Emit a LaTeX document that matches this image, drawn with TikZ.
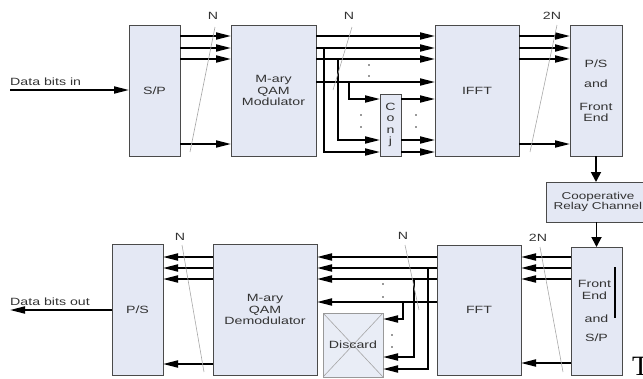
\documentclass[tikz,border=0pt]{standalone}
\usepackage{fontspec}
\setsansfont{Liberation Sans}[FakeStretch=1.35]
\newfontfamily\serifT{Liberation Serif}
\usetikzlibrary{arrows.meta}
\definecolor{boxfill}{HTML}{E4E8F4}
\definecolor{boxline}{HTML}{4A4A4A}
\definecolor{txt}{HTML}{333333}
\definecolor{busline}{HTML}{A8A8A8}

\tikzset{
  blk/.style={draw=boxline,fill=boxfill,line width=1pt,outer sep=0pt,inner sep=0pt,text=txt,align=center},
  sig/.style={line width=1.8pt,-{Triangle[length=15pt,width=7pt]}},
  drop/.style={line width=1.8pt,-{Triangle[length=10pt,width=10pt]}},
  bus/.style={busline,line width=0.6pt},
  dotp/.style={fill=txt,circle,inner sep=0pt,minimum size=1.6pt},
}

\begin{document}
\begin{tikzpicture}[x=1pt,y=-1pt,font=\sffamily\fontsize{10.5}{11.5}\selectfont,>=Triangle]
 \useasboundingbox (0,0) rectangle (643,378);
 \clip (0,0) rectangle (643,378);

 % transmitter chain
 \node[blk,minimum width=51,minimum height=131] (sp) at (154.5,90.5) {S/P};
 \node[blk,minimum width=85,minimum height=131] (mod) at (273.5,90.5) {M-ary\\QAM\\Modulator};
 \node[blk,minimum width=21,minimum height=62] (conj) at (390.5,125) {C\\o\\n\\j};
 \node[blk,minimum width=84,minimum height=131] (ifft) at (477,90.5) {IFFT};
 \node[blk,minimum width=52,minimum height=131] (ps) at (596,90.5) {P/S\\[8.5pt]and\\[11.5pt]Front\\End};
 \node[blk,minimum width=103,minimum height=40,font=\sffamily\fontsize{10}{9}\selectfont] (coop) at (598,202) {Cooperative\\Relay Channel};

 % receiver chain
 \node[blk,minimum width=51,minimum height=128] (fe) at (596.5,311) {\hspace*{-4pt}Front\\\hspace*{-4pt}End\\[11.5pt]and\\[7.5pt]S/P};
 \node[blk,minimum width=84,minimum height=130] (fft) at (479,310) {FFT};
 \node[blk,minimum width=60,minimum height=64,draw=gray!80,fill=boxfill!80!white,
   path picture={\draw[gray!70,line width=0.6pt] (path picture bounding box.north west) -- (path picture bounding box.south east)
     (path picture bounding box.north east) -- (path picture bounding box.south west);}] (dis) at (353,345) {Discard};
 \node[blk,minimum width=104,minimum height=131] (demod) at (265,309.5) {M-ary\\QAM\\Demodulator};
 \node[blk,minimum width=51,minimum height=131] (ps2) at (137.5,309.5) {P/S};

 % input / output
 \coordinate (din) at (10,90);
 \coordinate (dout) at (10,310);
 \node[anchor=base west,inner sep=0pt,text=txt] (inlbl) at (10,85) {Data bits in};
 \node[anchor=base west,inner sep=0pt,text=txt] (outlbl) at (10,305) {Data bits out};
 \draw[sig] (din) -- (sp.west |- din);
 \draw[sig] (ps2.west |- dout) -- (dout);

 % parallel lines, top
 \foreach \y in {36,48,59,144}
   \draw[sig] (sp.east |- 0,\y) -- (mod.west |- 0,\y);
 \foreach \y in {36,48,59,82}
   \draw[sig] (mod.east |- 0,\y) -- (ifft.west |- 0,\y);
 \draw[sig] (mod.east |- 0,48) ++(8,0) |- (conj.west |- 0,152);
 \draw[sig] (mod.east |- 0,59) ++(22,0) |- (conj.west |- 0,140);
 \draw[sig] (mod.east |- 0,82) ++(33,0) |- (conj.west |- 0,99);
 \foreach \y in {99,140,152}
   \draw[sig] (conj.east |- 0,\y) -- (ifft.west |- 0,\y);
 \foreach \y in {36,48,59,144}
   \draw[sig] (ifft.east |- 0,\y) -- (ps.west |- 0,\y);

 % relay path
 \draw[drop] (ps.south) -- (ps.south |- coop.north);
 \draw[drop] (coop.south -| fe.north) -- (fe.north);
 \draw[line width=1.3pt] (615,267) -- (615,318);

 % parallel lines, bottom
 \foreach \y in {257,268,279,363}
   \draw[sig] (fe.west |- 0,\y) -- (fft.east |- 0,\y);
 \foreach \y in {257,268,279,302}
   \draw[sig] (fft.west |- 0,\y) -- (demod.east |- 0,\y);
 \draw[sig] (fft.west |- 0,268) ++(-9,0) |- (dis.east |- 0,369);
 \draw[sig] (fft.west |- 0,279) ++(-23,0) |- (dis.east |- 0,357);
 \draw[sig] (fft.west |- 0,302) ++(-34,0) |- (dis.east |- 0,319);
 \foreach \y in {257,268,279,364}
   \draw[sig] (demod.west |- 0,\y) -- (ps2.east |- 0,\y);

 % dots
 \foreach \p in {(369,65),(369,76),(361,115),(361,127),(416,115),(416,127),
                 (383,284),(383,297),(392,335),(392,347)}
   \node[dotp] at \p {};

 % bus widths
 \node[text=txt] (w1) at (213,16) {N};
 \draw[bus] (215,27) -- (190,152);
 \node[text=txt] (w2) at (349,16) {N};
 \draw[bus] (352,27) -- (333,90);
 \node[text=txt] (w3) at (552,16) {2N};
 \draw[bus] (557,25) -- (530,152);
 \node[text=txt] (w4) at (180,237) {N};
 \draw[bus] (182,245) -- (204,372);
 \node[text=txt] (w5) at (403,236) {N};
 \draw[bus] (405,245) -- (419,310);
 \node[text=txt] (w6) at (538,238) {2N};
 \draw[bus] (540,247) -- (563,372);

 \node[anchor=base west,inner sep=0pt,font=\serifT\fontsize{28}{28}\selectfont] (tee) at (632,375) {T};
\end{tikzpicture}
\end{document}
